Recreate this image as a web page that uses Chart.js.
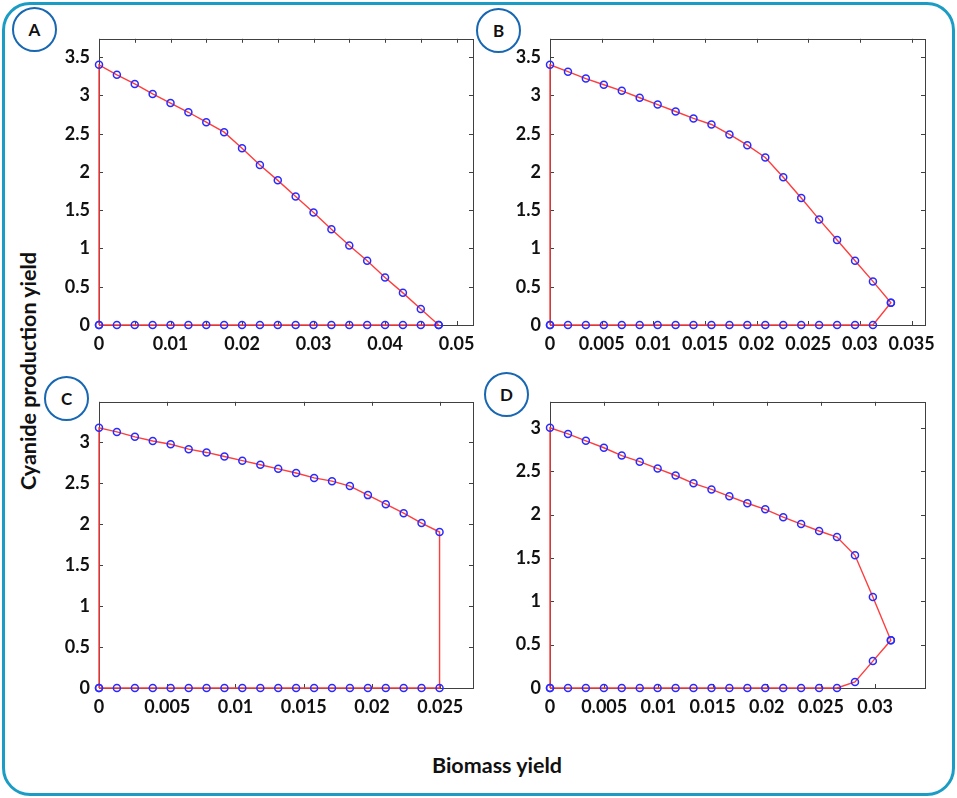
<!DOCTYPE html>
<html>
<head>
<meta charset="utf-8">
<script src="https://cdn.jsdelivr.net/npm/chart.js@4/dist/chart.umd.min.js"></script>
<style>
  body { margin: 0; background: #fff; font-family: Lato, "Open Sans", sans-serif; }
  #page { position: relative; width: 957px; height: 798px; overflow: hidden; }
  #frame { position: absolute; left: 2px; top: 2px; width: 953px; height: 794px; box-sizing: border-box;
           border: 3px solid #1b9cc4; border-radius: 28px; }
  .box { position: absolute; }
  .tag { position: absolute; width: 41px; height: 41px; border: 2px solid #1767b2; border-radius: 50%;
         background: #fff; font: bold 17px Lato, sans-serif; color: #111; text-align: center; line-height: 41px; z-index: 5; }
  .title { position: absolute; font: bold 21.5px Lato, sans-serif; color: #111; white-space: nowrap; }
</style>
</head>
<body>
<div id="page">
  <div id="frame"></div>
  <div class="box" style="left:54px;top:19px;width:439px;height:334px"><canvas id="cA"></canvas></div>
  <div class="box" style="left:505px;top:19px;width:440px;height:334px"><canvas id="cB"></canvas></div>
  <div class="box" style="left:54px;top:382px;width:439px;height:334px"><canvas id="cC"></canvas></div>
  <div class="box" style="left:505px;top:382px;width:440px;height:334px"><canvas id="cD"></canvas></div>
  <div class="tag" style="left:12px;top:7px">A</div>
  <div class="tag" style="left:476px;top:8px">B</div>
  <div class="tag" style="left:44px;top:376px">C</div>
  <div class="tag" style="left:484px;top:372px">D</div>
  <div class="title" style="left:28px;top:371px;transform:translate(-50%,-50%) rotate(-90deg)">Cyanide production yield</div>
  <div class="title" style="left:497px;top:765px;transform:translate(-50%,-50%)">Biomass yield</div>
</div>
<script>
// panel A
var xA = [0, 0.0025, 0.005, 0.0075, 0.01, 0.0125, 0.015, 0.0175, 0.02, 0.0225,
          0.025, 0.0275, 0.03, 0.0325, 0.035, 0.0375, 0.04, 0.0425, 0.045, 0.0475];
var maxA = [3.40, 3.27, 3.15, 3.02, 2.90, 2.78, 2.65, 2.52, 2.31, 2.09,
            1.89, 1.68, 1.47, 1.25, 1.04, 0.84, 0.62, 0.42, 0.21, 0];
var minA = [0, 0, 0, 0, 0, 0, 0, 0, 0, 0, 0, 0, 0, 0, 0, 0, 0, 0, 0, 0];

// panel B
var xB = [0, 0.00174, 0.00347, 0.00521, 0.00695, 0.00868, 0.01042, 0.01216, 0.01389, 0.01563,
          0.01737, 0.0191, 0.02084, 0.02258, 0.02432, 0.02605, 0.02779, 0.02953, 0.03126, 0.033];
var maxB = [3.40, 3.31, 3.22, 3.14, 3.06, 2.97, 2.88, 2.79, 2.70, 2.62,
            2.49, 2.35, 2.19, 1.93, 1.66, 1.38, 1.11, 0.84, 0.57, 0.29];
var minB = [0, 0, 0, 0, 0, 0, 0, 0, 0, 0, 0, 0, 0, 0, 0, 0, 0, 0, 0, 0.29];

// panel C
var xC = [0, 0.00131, 0.00263, 0.00394, 0.00525, 0.00657, 0.00788, 0.00919, 0.0105, 0.01182,
          0.01313, 0.01444, 0.01576, 0.01707, 0.01838, 0.0197, 0.02101, 0.02232, 0.02363, 0.02495];
var maxC = [3.17, 3.12, 3.06, 3.01, 2.97, 2.91, 2.87, 2.82, 2.77, 2.72,
            2.67, 2.62, 2.56, 2.52, 2.46, 2.35, 2.24, 2.13, 2.01, 1.90];
var minC = [0, 0, 0, 0, 0, 0, 0, 0, 0, 0, 0, 0, 0, 0, 0, 0, 0, 0, 0, 0];

// panel D
var xD = [0, 0.00166, 0.00331, 0.00497, 0.00662, 0.00828, 0.00993, 0.01159, 0.01324, 0.0149,
          0.01655, 0.01821, 0.01986, 0.02152, 0.02317, 0.02483, 0.02648, 0.02814, 0.02979, 0.03145];
var maxD = [3.00, 2.93, 2.85, 2.77, 2.68, 2.61, 2.53, 2.45, 2.36, 2.29,
            2.21, 2.13, 2.06, 1.97, 1.89, 1.81, 1.74, 1.53, 1.05, 0.55];
var minD = [0, 0, 0, 0, 0, 0, 0, 0, 0, 0, 0, 0, 0, 0, 0, 0, 0, 0.07, 0.31, 0.55];

// ticks
var xTicksA = [0, 0.005, 0.01, 0.015, 0.02, 0.025, 0.03, 0.035, 0.04, 0.045, 0.05];
var xLabelsA = ['0', '', '0.01', '', '0.02', '', '0.03', '', '0.04', '', '0.05'];
var xTicksB = [0, 0.005, 0.01, 0.015, 0.02, 0.025, 0.03, 0.035];
var xLabelsB = ['0', '0.005', '0.01', '0.015', '0.02', '0.025', '0.03', '0.035'];
var xTicksC = [0, 0.005, 0.01, 0.015, 0.02, 0.025];
var xLabelsC = ['0', '0.005', '0.01', '0.015', '0.02', '0.025'];
var xTicksD = [0, 0.005, 0.01, 0.015, 0.02, 0.025, 0.03];
var xLabelsD = ['0', '0.005', '0.01', '0.015', '0.02', '0.025', '0.03'];
var yTicks35 = [0, 0.5, 1, 1.5, 2, 2.5, 3, 3.5];
var yLabels35 = ['0', '0.5', '1', '1.5', '2', '2.5', '3', '3.5'];
var yTicks3 = [0, 0.5, 1, 1.5, 2, 2.5, 3];
var yLabels3 = ['0', '0.5', '1', '1.5', '2', '2.5', '3'];

// box + inward tick marks, like the matlab axes
var axesBox = {
    id: 'axesBox',
    beforeDatasetsDraw: function(chart) {
        var ctx = chart.ctx, a = chart.chartArea;
        var sx = chart.scales.x, sy = chart.scales.y;
        ctx.save();
        ctx.strokeStyle = '#404040';
        ctx.lineWidth = 1;
        ctx.strokeRect(Math.round(a.left) + 0.5, Math.round(a.top) + 0.5,
                       Math.round(a.width), Math.round(a.height));
        ctx.beginPath();
        sx.ticks.forEach(function(t) {
            var p = Math.round(sx.getPixelForValue(t.value)) + 0.5;
            ctx.moveTo(p, a.bottom); ctx.lineTo(p, a.bottom - 4);
            ctx.moveTo(p, a.top); ctx.lineTo(p, a.top + 4);
        });
        sy.ticks.forEach(function(t) {
            var p = Math.round(sy.getPixelForValue(t.value)) + 0.5;
            ctx.moveTo(a.left, p); ctx.lineTo(a.left + 4, p);
            ctx.moveTo(a.right, p); ctx.lineTo(a.right - 4, p);
        });
        ctx.stroke();
        ctx.restore();
    }
};

function envelope(xs, ymax, ymin) {
    var pts = [];
    for (var i = 0; i < xs.length; i++) pts.push({x: xs[i], y: ymin[i]});
    for (var j = xs.length - 1; j >= 0; j--) pts.push({x: xs[j], y: ymax[j]});
    pts.push({x: xs[0], y: ymin[0]});
    return pts;
}

function makeChart(id, xs, ymax, ymin, xMax, yMax, xTicks, xLabels, yTicks, yLabels) {
    var tickFont = {family: 'Lato', size: 18, weight: 'bold'};
    return new Chart(document.getElementById(id).getContext('2d'), {
        type: 'scatter',
        data: {
            datasets: [{
                data: envelope(xs, ymax, ymin),
                showLine: true,
                borderColor: '#ff3d3d',
                borderWidth: 1.4,
                pointStyle: 'circle',
                pointRadius: 3.5,
                pointBorderWidth: 1.5,
                pointBorderColor: '#2a2aff',
                pointBackgroundColor: 'rgba(0,0,0,0)',
                clip: false
            }]
        },
        options: {
            responsive: true,
            maintainAspectRatio: false,
            animation: false,
            layout: {padding: {top: 10, right: 20, left: 0, bottom: 0}},
            plugins: {legend: {display: false}, tooltip: {enabled: false}},
            scales: {
                x: {
                    type: 'linear', min: 0, max: xMax,
                    grid: {display: false, drawTicks: false},
                    border: {display: false},
                    afterBuildTicks: function(s) { s.ticks = xTicks.map(function(v) { return {value: v}; }); },
                    afterFit: function(s) { s.height = 28; },
                    ticks: {
                        autoSkip: false, maxRotation: 0, padding: 8, color: '#111', font: tickFont,
                        callback: function(v, i) { return xLabels[i]; }
                    }
                },
                y: {
                    type: 'linear', min: 0, max: yMax,
                    grid: {display: false, drawTicks: false},
                    border: {display: false},
                    afterBuildTicks: function(s) { s.ticks = yTicks.map(function(v) { return {value: v}; }); },
                    afterFit: function(s) { s.width = 45; },
                    ticks: {
                        autoSkip: false, padding: 9, color: '#111', font: tickFont,
                        callback: function(v, i) { return yLabels[i]; }
                    }
                }
            }
        },
        plugins: [axesBox]
    });
}

makeChart('cA', xA, maxA, minA, 0.0523, 3.74, xTicksA, xLabelsA, yTicks35, yLabels35);
makeChart('cB', xB, maxB, minB, 0.0363, 3.74, xTicksB, xLabelsB, yTicks35, yLabels35);
makeChart('cC', xC, maxC, minC, 0.0274, 3.487, xTicksC, xLabelsC, yTicks3, yLabels3);
makeChart('cD', xD, maxD, minD, 0.0346, 3.3, xTicksD, xLabelsD, yTicks3, yLabels3);
</script>
</body>
</html>
